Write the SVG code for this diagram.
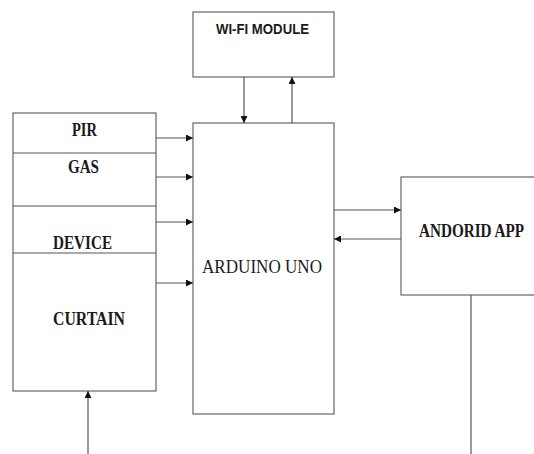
<svg xmlns="http://www.w3.org/2000/svg" width="534" height="454" viewBox="0 0 534 454">
<style>
.box{fill:#fff;stroke:#666;stroke-width:1.2}
.ln{stroke:#555;stroke-width:1.2;fill:none}
.t{font-family:"Liberation Serif",serif;font-weight:bold;font-size:18px;fill:#1a1a1a;text-anchor:middle}
.s{font-family:"Liberation Sans",sans-serif;font-weight:bold;font-size:14px;fill:#1a1a1a;text-anchor:middle}
.r{font-family:"Liberation Serif",serif;font-size:19px;fill:#1a1a1a;text-anchor:middle}
</style>
<defs>
<marker id="ah" viewBox="0 0 10 10" refX="10" refY="5" markerWidth="7" markerHeight="7" markerUnits="userSpaceOnUse" orient="auto">
<path d="M0,0 L10,5 L0,10 z" fill="#111"/>
</marker>
</defs>
<g id="wifi">
<rect class="box" x="193" y="12" width="141" height="65"/>
<text class="s" x="262.5" y="34" textLength="93" lengthAdjust="spacingAndGlyphs">WI-FI MODULE</text>
</g>
<g id="arduino">
<rect class="box" x="193" y="123" width="141" height="291"/>
<text class="r" x="262" y="273" textLength="120" lengthAdjust="spacingAndGlyphs">ARDUINO UNO</text>
</g>
<g id="sensors">
<rect class="box" x="13" y="113" width="143" height="278"/>
<line class="ln" x1="13" y1="153" x2="156" y2="153"/>
<line class="ln" x1="13" y1="206" x2="156" y2="206"/>
<line class="ln" x1="13" y1="253" x2="156" y2="253"/>
<text class="t" x="84.5" y="136" textLength="25" lengthAdjust="spacingAndGlyphs">PIR</text>
<text class="t" x="83.5" y="173" textLength="31" lengthAdjust="spacingAndGlyphs">GAS</text>
<text class="t" x="82.5" y="249" textLength="59" lengthAdjust="spacingAndGlyphs">DEVICE</text>
<text class="t" x="89" y="325" textLength="72" lengthAdjust="spacingAndGlyphs">CURTAIN</text>
</g>
<g id="android">
<rect class="box" x="401" y="177" width="140" height="118"/>
<text class="t" x="471.5" y="237" textLength="105" lengthAdjust="spacingAndGlyphs">ANDORID APP</text>
</g>
<g id="connectors">
<line class="ln" x1="244" y1="77" x2="244" y2="123" marker-end="url(#ah)"/>
<line class="ln" x1="292" y1="123" x2="292" y2="77" marker-end="url(#ah)"/>
<line class="ln" x1="156" y1="138" x2="193" y2="138" marker-end="url(#ah)"/>
<line class="ln" x1="156" y1="177" x2="193" y2="177" marker-end="url(#ah)"/>
<line class="ln" x1="156" y1="222" x2="193" y2="222" marker-end="url(#ah)"/>
<line class="ln" x1="156" y1="283" x2="193" y2="283" marker-end="url(#ah)"/>
<line class="ln" x1="334" y1="210" x2="401" y2="210" marker-end="url(#ah)"/>
<line class="ln" x1="401" y1="239" x2="334" y2="239" marker-end="url(#ah)"/>
<line class="ln" x1="88" y1="454" x2="88" y2="391" marker-end="url(#ah)"/>
<line class="ln" x1="471" y1="295" x2="471" y2="454"/>
</g>
</svg>
